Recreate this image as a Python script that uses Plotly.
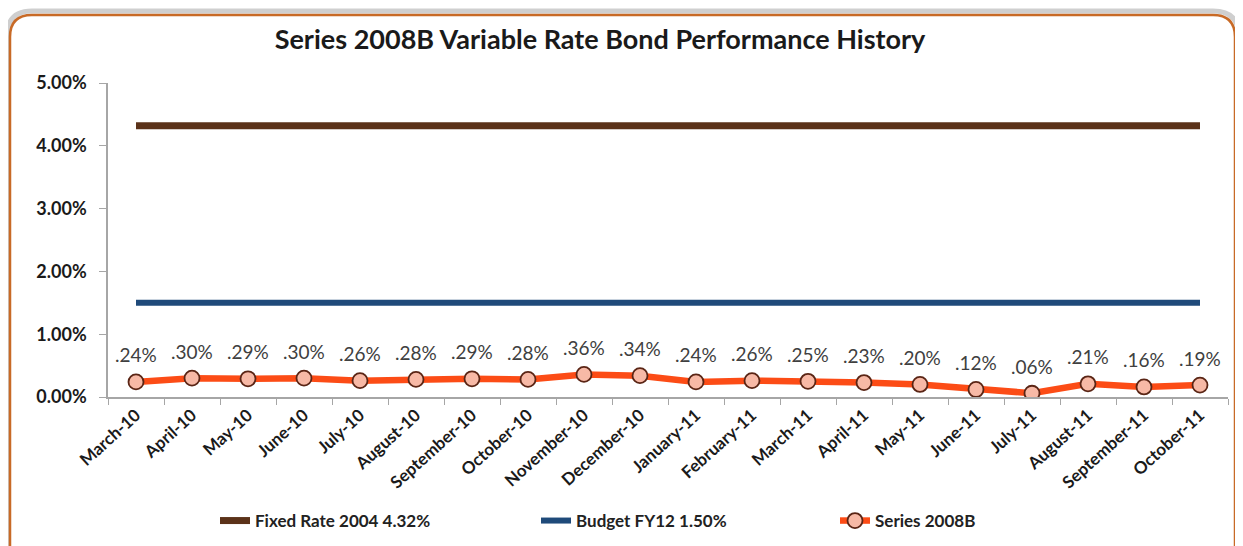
import plotly.graph_objects as go

months = ["March-10", "April-10", "May-10", "June-10", "July-10", "August-10",
          "September-10", "October-10", "November-10", "December-10", "January-11",
          "February-11", "March-11", "April-11", "May-11", "June-11", "July-11",
          "August-11", "September-11", "October-11"]
series_2008b = [0.24, 0.30, 0.29, 0.30, 0.26, 0.28, 0.29, 0.28, 0.36, 0.34,
                0.24, 0.26, 0.25, 0.23, 0.20, 0.12, 0.06, 0.21, 0.16, 0.19]
fixed_rate = [4.32] * len(months)
budget = [1.50] * len(months)
labels = [".24%", ".30%", ".29%", ".30%", ".26%", ".28%", ".29%", ".28%", ".36%", ".34%",
          ".24%", ".26%", ".25%", ".23%", ".20%", ".12%", ".06%", ".21%", ".16%", ".19%"]
yticks = [0, 1, 2, 3, 4, 5]
yticklabels = ["0.00%", "1.00%", "2.00%", "3.00%", "4.00%", "5.00%"]

FONT = "Lato"

# page has an 8px body margin; work in screen coordinates and convert
OX, OY = 8, 8
SW, SH = 1243, 546
W, H = SW - OX, SH - OY
PL, PR, PT, PB = 108, 1228, 83, 397   # plot area in screen px
L, R, T, B = PL - OX, SW - PR, PT - OY, SH - PB
pw, ph = PR - PL, PB - PT

def px(x):
    return (x - PL) / pw

def py(y):
    return (PB - y) / ph

fig = go.Figure()
fig.add_trace(go.Scatter(x=months, y=fixed_rate, mode="lines", name="Fixed Rate 2004 4.32%",
                         line=dict(color="#5b3219", width=7), legend="legend"))
fig.add_trace(go.Scatter(x=months, y=budget, mode="lines", name="Budget FY12 1.50%",
                         line=dict(color="#1f4a7a", width=6), legend="legend2"))
fig.add_trace(go.Scatter(x=months, y=series_2008b, mode="lines+markers", name="Series 2008B",
                         line=dict(color="#fc4c16", width=6.5),
                         marker=dict(size=15, color="#f7b9a6",
                                     line=dict(color="#5a2515", width=1.8)),
                         legend="legend3"))

for m, v, t in zip(months, series_2008b, labels):
    fig.add_annotation(x=m, y=v, text=t, showarrow=False, yshift=27,
                       font=dict(family=FONT, size=19, color="#404040"))

# rounded frame
x0, x1, y0, y1, r = 10, 1235, 15, 620, 22
path = (f"M {px(x0 + r)} {py(y0)} L {px(x1 - r)} {py(y0)} "
        f"Q {px(x1)} {py(y0)} {px(x1)} {py(y0 + r)} "
        f"L {px(x1)} {py(y1)} L {px(x0)} {py(y1)} L {px(x0)} {py(y0 + r)} "
        f"Q {px(x0)} {py(y0)} {px(x0 + r)} {py(y0)} Z")
spath = (f"M {px(x0 + r)} {py(y0 - 4)} L {px(x1 - r)} {py(y0 - 4)} "
         f"Q {px(x1 + 4)} {py(y0 - 4)} {px(x1 + 4)} {py(y0 + r)} "
         f"L {px(x1 + 4)} {py(y1)} L {px(x0 - 3)} {py(y1)} L {px(x0 - 3)} {py(y0 + r)} "
         f"Q {px(x0 - 3)} {py(y0 - 4)} {px(x0 + r)} {py(y0 - 4)} Z")
fig.add_shape(type="path", path=spath, xref="paper", yref="paper",
              line=dict(color="#cfcfcf", width=5), layer="below")
fig.add_shape(type="path", path=path, xref="paper", yref="paper",
              line=dict(color="#c86a26", width=2.5), fillcolor="white", layer="below")

legfont = dict(family=FONT, size=17, color="#222222", weight="bold")
def leg(xs):
    return dict(orientation="h", x=px(xs), xanchor="left", y=py(521), yanchor="middle",
                font=legfont, bgcolor="rgba(0,0,0,0)")

fig.update_layout(
    width=W, height=H,
    margin=dict(l=L, r=R, t=T, b=B, autoexpand=False),
    paper_bgcolor="white", plot_bgcolor="rgba(0,0,0,0)",
    title=dict(text="<b>Series 2008B Variable Rate Bond Performance History</b>",
               x=(600 - OX) / W, xref="container", xanchor="center",
               y=1 - (40 - OY) / H, yref="container", yanchor="middle",
               font=dict(family=FONT, size=27, color="#1a1a1a")),
    showlegend=True,
    legend=leg(215),
    legend2=leg(536),
    legend3=leg(835),
    xaxis=dict(type="category", range=[-0.5, len(months) - 0.5], showgrid=False,
               showline=True, linecolor="#a6a6a6", linewidth=1.5,
               ticks="outside", ticklen=6, tickcolor="#a6a6a6", tickangle=-42,
               tickson="boundaries",
               tickfont=dict(family=FONT, size=17, color="#1a1a1a", weight="bold")),
    yaxis=dict(range=[0, 5], tickvals=yticks, ticktext=yticklabels, showgrid=False,
               showline=True, linecolor="#a6a6a6", linewidth=1.5, ticks="outside",
               ticklen=7, tickcolor="#a6a6a6", zeroline=False, ticklabelstandoff=9,
               tickfont=dict(family=FONT, size=18, color="#1a1a1a", weight="bold")),
)

fig.write_html("out.html")
